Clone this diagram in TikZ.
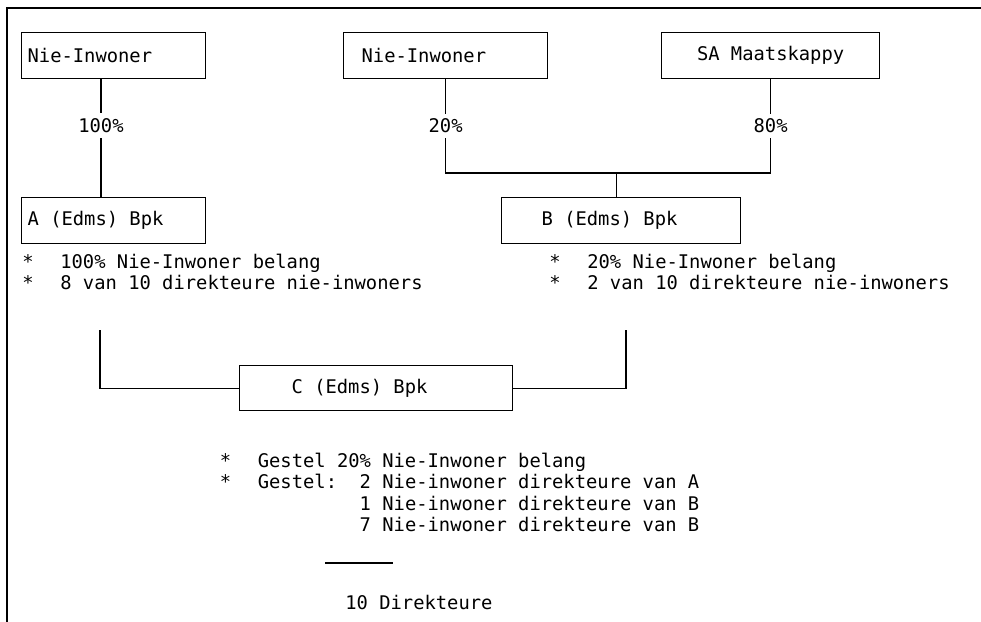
\documentclass[tikz,border=0pt]{standalone}
\usepackage{fontspec}
\setmonofont{DejaVu Sans Mono}
\usepackage{tikz}
\usetikzlibrary{calc}
\newcommand{\bul}{\makebox[0.760cm][l]{*}}

\begin{document}
\begin{tikzpicture}[line join=miter,
  every node/.style={font=\ttfamily\frenchspacing\fontsize{10.7pt}{11.6pt}\selectfont},
  firm/.style={draw,line width=0.7pt,minimum height=0.920cm,inner ysep=0pt,anchor=north west,align=flush left},
  pct/.style={fill=white,inner xsep=1pt,inner ysep=3pt},
  note/.style={anchor=west,inner sep=0pt,align=left},
  link/.style={line width=0.7pt}]
  \useasboundingbox (0.000,0.000) rectangle (19.620,-12.440);
  \draw[line width=1pt] (0.140,-12.440) -- (0.140,-0.160) -- (19.620,-0.160);
  \coordinate (jn) at (0.000,-3.460);
  \coordinate (cA) at (2.000,-6.600);
  \coordinate (cB) at (12.520,-6.600);
  \coordinate (sumL) at (6.500,-11.260);
  \coordinate (sumR) at (7.860,-11.260);
  \node[firm,text width=3.440cm,inner xsep=0.120cm] (nieA) at (0.420,-0.640) {Nie-Inwoner};
  \node[firm,text width=3.360cm,inner xsep=0.360cm] (nieB) at (6.860,-0.640) {Nie-Inwoner};
  \node[firm,text width=4.360cm,inner xsep=0cm,align=flush center] (sa) at (13.220,-0.640) {SA Maatskappy};
  \node[firm,text width=3.440cm,inner xsep=0.120cm] (boxA) at (0.420,-3.940) {A (Edms) Bpk};
  \node[firm,text width=3.180cm,inner xsep=0.800cm] (boxB) at (10.020,-3.940) {B (Edms) Bpk};
  \node[firm,text width=3.380cm,inner xsep=1.040cm,minimum height=0.900cm] (boxC) at (4.780,-7.300) {C (Edms) Bpk};
  \draw[link] ([xshift=1.600cm]nieA.south west) -- node[pct,pos=0.39] {100\%} ([xshift=1.600cm]boxA.north west);
  \draw[link] (nieB.south) -- node[pct] {20\%} (nieB.south |- jn) -- (sa.south |- jn) -- node[pct] {80\%} (sa.south);
  \draw[link] ([xshift=-0.100cm]boxB.north |- jn) -- ([xshift=-0.100cm]boxB.north);
  \draw[link] (cA) |- (boxC.west);
  \draw[link] (cB) |- (boxC.east);
  \node[note] (noteA) at (0.440,-5.440) {\bul 100\% Nie-Inwoner belang\\\bul 8 van 10 direkteure nie-inwoners};
  \node[note] (noteB) at (10.980,-5.440) {\bul 20\% Nie-Inwoner belang\\\bul 2 van 10 direkteure nie-inwoners};
  \node[note,font=\ttfamily\frenchspacing\fontsize{10.7pt}{12.3pt}\selectfont] (noteC) at (4.390,-9.850) {\bul Gestel 20\% Nie-Inwoner belang\\\bul Gestel:~~2 Nie-inwoner direkteure van A\\\phantom{\bul Gestel:~~}1 Nie-inwoner direkteure van B\\\phantom{\bul Gestel:~~}7 Nie-inwoner direkteure van B};
  \draw[link] (sumL) -- (sumR);
  \node[note] (total) at (6.900,-12.040) {10 Direkteure};
\end{tikzpicture}
\end{document}
